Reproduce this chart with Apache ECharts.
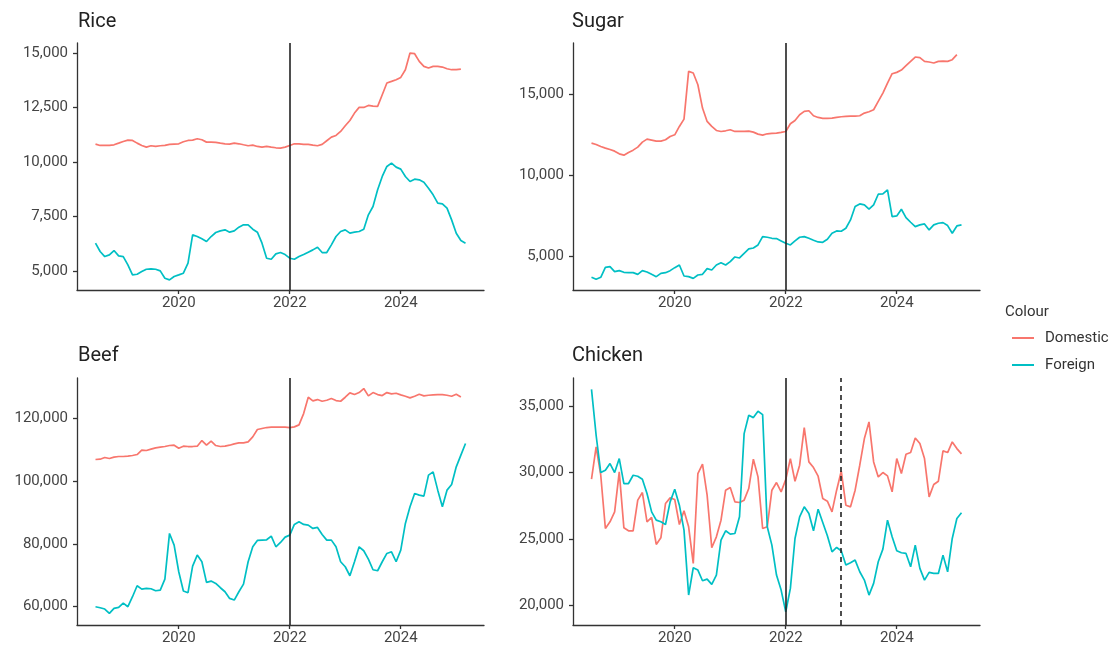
<!DOCTYPE html>
<html>
<head>
<meta charset="utf-8">
<script src="https://cdn.jsdelivr.net/npm/echarts@6/dist/echarts.min.js"></script>
<style>
  html, body { margin: 0; padding: 0; background: #ffffff; }
  #chart { width: 1115px; height: 649px; }
</style>
</head>
<body>
<div id="chart"></div>
<script>
// Monthly observations, starting July 2018
const startYear = 2018;
const startMonth = 7; // July

const panelTitles = ['Rice', 'Sugar', 'Beef', 'Chicken'];
const seriesNames = ['Domestic', 'Foreign'];
const xTickLabels = [2020, 2022, 2024];

const riceDomestic = [10826,10765,10765,10765,10795,10871,10948,11009,10994,10871,
10765,10688,10750,10719,10750,10765,10811,10826,10841,10933,
10994,11009,11070,11024,10917,10917,10902,10871,10841,10826,
10871,10841,10795,10750,10780,10719,10688,10719,10688,10658,
10643,10688,10765,10841,10841,10811,10811,10780,10750,10811,
10979,11147,11223,11407,11667,11911,12248,12508,12508,12599,
12569,12554,13089,13624,13700,13777,13884,14236,15000,14969,
14618,14388,14312,14388,14388,14358,14281,14236,14236,14266];

const riceForeign = [6285,5903,5673,5750,5949,5704,5673,5291,4832,4863,
4985,5092,5108,5092,5016,4679,4603,4756,4832,4909,
5368,6668,6591,6484,6362,6591,6775,6851,6897,6790,
6851,7019,7126,7126,6927,6790,6285,5597,5551,5796,
5857,5765,5597,5551,5673,5765,5872,5979,6101,5857,
5857,6209,6591,6821,6897,6744,6790,6821,6927,7584,
7966,8731,9343,9801,9954,9771,9679,9343,9113,9220,
9190,9083,8808,8502,8120,8089,7890,7355,6744,6407,
6285];

const sugarDomestic = [11969,11886,11763,11660,11577,11474,11309,11227,11392,11536,
11721,12031,12216,12155,12093,12093,12175,12381,12484,13000,
13454,16402,16299,15577,14134,13309,13000,12752,12690,12732,
12794,12690,12690,12690,12711,12649,12526,12464,12546,12567,
12587,12629,12690,13165,13371,13722,13928,13969,13660,13557,
13495,13495,13515,13557,13598,13619,13639,13639,13660,13825,
13907,14031,14546,15062,15680,16258,16340,16485,16753,17021,
17289,17248,17021,16980,16918,17021,17041,17021,17124,17433];

const sugarForeign = [3680,3556,3680,4299,4340,4030,4092,3989,3968,3968,
3865,4092,4010,3865,3721,3927,3968,4092,4278,4443,
3763,3721,3618,3824,3865,4216,4134,4443,4587,4443,
4649,4938,4876,5165,5433,5494,5680,6196,6154,6092,
6072,5928,5783,5680,5928,6154,6196,6092,5969,5865,
5845,6031,6402,6546,6525,6711,7226,8051,8216,8154,
7887,8154,8814,8835,9082,7433,7474,7887,7371,7082,
6814,6917,6979,6608,6917,7020,7061,6876,6402,6855,
6917];

const beefDomestic = [106937,107044,107575,107256,107681,107893,107893,108000,108212,108530,
109911,109805,110230,110654,110867,111079,111398,111504,110548,111185,
111079,111079,111185,112991,111504,112778,111398,111079,111185,111504,
111929,112247,112247,112566,114159,116495,116814,117133,117239,117239,
117239,117239,117133,117345,117982,121593,126797,125629,126053,125522,
125841,126372,125735,125522,126797,128177,127646,128284,129558,127222,
128284,127646,127327,128284,127859,128071,127540,127115,126584,127115,
127752,127221,127434,127540,127646,127646,127434,127115,127752,126903];

const beefForeign = [60000,59682,59257,57876,59469,59788,61168,60000,63186,66690,
65628,65840,65734,65097,65309,68814,83363,79646,71150,64990,
64460,72956,76460,74336,67752,68176,67433,66053,64778,62654,
62123,64778,67221,74336,79113,81130,81236,81343,82511,79113,
80493,82194,82830,86232,87080,86230,86018,84956,85275,83044,
81237,81237,79113,74336,72743,69876,74336,79113,77840,75184,
71786,71469,74336,76990,77520,74336,78050,86550,91857,96105,
95574,95255,101946,103008,97167,91857,97167,98973,104602,108319,
112035];

const chickenDomestic = [29500,31925,29800,25800,26300,27050,30050,25850,25625,25625,
27925,28500,26300,26625,24600,25100,27675,28100,27975,26100,
27125,25925,23175,29925,30625,28300,24350,25175,26425,28675,
28875,27800,27750,27925,28800,31000,29675,25800,25925,28675,
29250,28550,29475,31050,29350,30550,33375,30800,30375,29725,
28050,27850,27050,28675,30100,27550,27425,28675,30550,32550,
33800,30800,29675,30000,29750,28550,31050,29925,31375,31500,
32600,32175,31050,28175,29100,29350,31625,31500,32300,31800,
31400];

const chickenForeign = [36250,32800,30000,30175,30675,30000,31050,29175,29175,29800,
29725,29500,28425,27050,26425,26300,26100,27800,28750,27550,
25675,20800,22850,22675,21875,22000,21600,22300,24925,25625,
25375,25425,26675,32925,34300,34125,34600,34350,25925,24550,
22300,21175,19550,21300,25050,26675,27425,26925,25625,27250,
26250,25250,24050,24375,24125,23050,23225,23425,22550,21925,
20800,21675,23300,24250,26425,25175,24125,23975,23925,22925,
24550,22800,21925,22500,22425,22425,23800,22550,25050,26550,
26975];

const riceTicks = [5000, 7500, 10000, 12500, 15000];
const sugarTicks = [5000, 10000, 15000];
const beefTicks = [60000, 80000, 100000, 120000];
const chickenTicks = [20000, 25000, 30000, 35000];

// Reference events
const policyLine = 2022;
const chickenExtraLine = 2023;

// ---------- build options ----------
const panels = [
  { dom: riceDomestic, frn: riceForeign, ticks: riceTicks, yMin: 4140, yMax: 15460 },
  { dom: sugarDomestic, frn: sugarForeign, ticks: sugarTicks, yMin: 2897, yMax: 18155 },
  { dom: beefDomestic, frn: beefForeign, ticks: beefTicks, yMin: 54170, yMax: 132930 },
  { dom: chickenDomestic, frn: chickenForeign, ticks: chickenTicks, yMin: 18552, yMax: 37100 }
];

const gridBoxes = [
  { left: 77, top: 43, width: 407, height: 247 },
  { left: 573, top: 43, width: 407, height: 247 },
  { left: 77, top: 378, width: 407, height: 247 },
  { left: 573, top: 378, width: 407, height: 247 }
];
const titlePos = [[78, 12], [572, 12], [78, 346], [572, 346]];

const RED = '#F8766D';
const CYAN = '#00BFC4';
const FONT = 'Roboto, "Noto Sans", sans-serif';

function toPairs(arr) {
  return arr.map((v, i) => [startYear + (startMonth - 1 + i) / 12, v]);
}

const axisLineStyle = { color: '#333333', width: 1.3 };

const option = {
  animation: false,
  backgroundColor: '#ffffff',
  textStyle: { fontFamily: FONT },
  title: panelTitles.map((t, k) => ({
    text: t,
    left: titlePos[k][0],
    top: titlePos[k][1],
    padding: 0,
    textStyle: { fontFamily: FONT, fontSize: 20, fontWeight: 'normal', color: '#222222' }
  })),
  grid: gridBoxes.map(g => Object.assign({ containLabel: false }, g)),
  xAxis: panels.map((p, k) => ({
    type: 'value',
    gridIndex: k,
    min: 2018 + 2 / 12,
    max: 2025.5,
    splitLine: { show: false },
    axisLine: { show: true, lineStyle: axisLineStyle },
    axisTick: { show: true, length: 4, lineStyle: axisLineStyle, customValues: xTickLabels },
    axisLabel: {
      customValues: xTickLabels,
      formatter: v => String(Math.round(v)),
      color: '#444444', fontSize: 15, fontFamily: FONT, margin: 6
    }
  })),
  yAxis: panels.map((p, k) => ({
    type: 'value',
    gridIndex: k,
    min: p.yMin,
    max: p.yMax,
    splitLine: { show: false },
    axisLine: { show: true, lineStyle: axisLineStyle },
    axisTick: { show: true, length: 4, lineStyle: axisLineStyle, customValues: p.ticks },
    axisLabel: {
      customValues: p.ticks,
      formatter: v => Math.round(v).toLocaleString('en-US'),
      color: '#444444', fontSize: 15, fontFamily: FONT, margin: 9
    }
  })),
  legend: {
    orient: 'vertical',
    left: 1007,
    top: 324,
    icon: 'rect',
    itemWidth: 22,
    itemHeight: 2,
    itemGap: 9,
    data: seriesNames,
    textStyle: { fontFamily: FONT, fontSize: 15, color: '#333333', lineHeight: 18, padding: [0, 0, 0, 6] }
  },
  graphic: [{
    type: 'text',
    left: 1005,
    top: 305,
    style: { text: 'Colour', font: '15px ' + FONT, fill: '#333333' }
  }],
  series: []
};

panels.forEach((p, k) => {
  const lines = [{ xAxis: policyLine, lineStyle: { type: 'solid', color: '#222222', width: 1.6 } }];
  if (k === 3) {
    lines.push({ xAxis: chickenExtraLine, lineStyle: { type: [5, 4], color: '#222222', width: 1.6 } });
  }
  option.series.push({
    name: seriesNames[0],
    type: 'line',
    xAxisIndex: k,
    yAxisIndex: k,
    data: toPairs(p.dom),
    showSymbol: false,
    symbol: 'none',
    color: RED,
    lineStyle: { color: RED, width: 1.7 },
    markLine: {
      silent: true,
      symbol: ['none', 'none'],
      label: { show: false },
      data: lines
    }
  });
  option.series.push({
    name: seriesNames[1],
    type: 'line',
    xAxisIndex: k,
    yAxisIndex: k,
    data: toPairs(p.frn),
    showSymbol: false,
    symbol: 'none',
    color: CYAN,
    lineStyle: { color: CYAN, width: 1.7 }
  });
});

const chart = echarts.init(document.getElementById('chart'), null, { renderer: 'canvas' });
chart.setOption(option);
</script>
</body>
</html>
